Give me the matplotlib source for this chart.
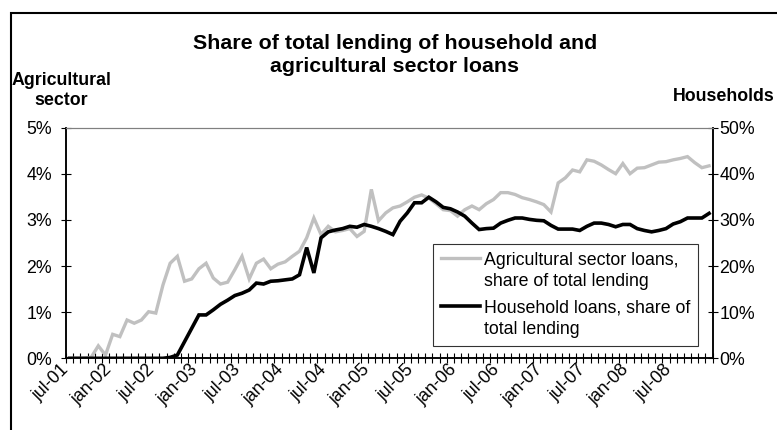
import numpy as np
import matplotlib
matplotlib.use('Agg')
import matplotlib.pyplot as plt
import matplotlib.patches as patches
import matplotlib.transforms as mtransforms
from matplotlib.legend_handler import HandlerLine2D

plt.rcParams['font.family'] = ['Liberation Sans', 'DejaVu Sans']

# monthly observations jul-01 .. dec-08 (90 months)
# agricultural sector loans, % of total lending (left axis)
agri_share = [0.00, 0.00, 0.00, 0.02, 0.27, 0.07, 0.52, 0.47, 0.83, 0.76,
              0.83, 1.01, 0.98, 1.59, 2.06, 2.21, 1.67, 1.72, 1.94, 2.06,
              1.74, 1.61, 1.65, 1.92, 2.21, 1.72, 2.06, 2.15, 1.94, 2.04,
              2.09, 2.21, 2.32, 2.61, 3.04, 2.68, 2.86, 2.74, 2.77, 2.81,
              2.64, 2.75, 3.66, 2.98, 3.15, 3.26, 3.30, 3.39, 3.49, 3.54,
              3.47, 3.35, 3.22, 3.20, 3.08, 3.22, 3.30, 3.22, 3.35, 3.44,
              3.59, 3.59, 3.55, 3.48, 3.44, 3.39, 3.33, 3.17, 3.80, 3.91,
              4.08, 4.04, 4.30, 4.27, 4.19, 4.09, 4.00, 4.22, 4.00, 4.12,
              4.13, 4.19, 4.25, 4.26, 4.30, 4.33, 4.37, 4.24, 4.13, 4.17]

# household loans, % of total lending (right axis)
household_share = [0, 0, 0, 0, 0, 0, 0, 0, 0, 0,
                   0, 0, 0, 0, 0.2, 0.7, 3.6, 6.5, 9.4, 9.4,
                   10.5, 11.7, 12.6, 13.6, 14.1, 14.8, 16.3, 16.1, 16.7, 16.8,
                   17.0, 17.2, 18.1, 24.0, 18.5, 26.1, 27.4, 27.8, 28.1, 28.6,
                   28.4, 29.0, 28.6, 28.1, 27.5, 26.8, 29.7, 31.5, 33.7, 33.7,
                   34.9, 33.9, 32.7, 32.4, 31.7, 30.8, 29.3, 27.9, 28.1, 28.2,
                   29.3, 29.9, 30.4, 30.4, 30.1, 29.9, 29.8, 28.8, 28.0, 28.0,
                   28.0, 27.7, 28.6, 29.3, 29.3, 29.0, 28.5, 29.0, 29.0, 28.1,
                   27.7, 27.4, 27.7, 28.1, 29.1, 29.6, 30.4, 30.4, 30.4, 31.4]

tick_labels = ['jul-01', 'jan-02', 'jul-02', 'jan-03', 'jul-03', 'jan-04',
               'jul-04', 'jan-05', 'jul-05', 'jan-06', 'jul-06', 'jan-07',
               'jul-07', 'jan-08', 'jul-08']
label_step = 6

agri_ticks = [0, 1, 2, 3, 4, 5]
household_ticks = [0, 10, 20, 30, 40, 50]

FS = 12.8


class FirstLineHandler(HandlerLine2D):
    """Legend handle drawn next to the first line of a two-line label."""
    def create_artists(self, legend, orig_handle, xdescent, ydescent,
                       width, height, fontsize, trans):
        artists = super().create_artists(legend, orig_handle, xdescent, ydescent,
                                          width, height, fontsize, trans)
        for a in artists:
            a.set_ydata(np.asarray(a.get_ydata()) + 0.75 * fontsize)
        return artists


fig = plt.figure(figsize=(7.77, 4.30), dpi=100)
ax = fig.add_axes([0.0849, 0.1667, 0.8323, 0.5367])
ax2 = ax.twinx()

n = len(agri_share)
x = np.arange(n)
line_agri, = ax.plot(x, agri_share, color='#c0c0c0', lw=2.4, solid_joinstyle='miter')
line_hh, = ax2.plot(x, household_share, color='black', lw=2.6, solid_joinstyle='miter')

ax.set_xlim(-0.5, n - 0.5)
ax.set_ylim(0, 5)
ax2.set_ylim(0, 50)

# month boundaries as cross ticks, labels every six months
ax.set_xticks(np.arange(n + 1) - 0.5)
ax.set_xticklabels([])
ax.tick_params(axis='x', which='major', direction='inout', length=6.5, width=0.8)
label_pos = np.arange(0, n, label_step)[:len(tick_labels)]
ax.set_xticks(label_pos, minor=True)
ax.set_xticklabels(tick_labels, minor=True, rotation=45, ha='right', va='center',
                   rotation_mode='anchor', fontsize=FS)
ax.tick_params(axis='x', which='minor', length=0, pad=6.3)
shift = mtransforms.ScaledTranslation(-3.6 / 100, 0, fig.dpi_scale_trans)
for lbl in ax.get_xticklabels(minor=True):
    lbl.set_transform(lbl.get_transform() + shift)

ax.set_yticks(agri_ticks)
ax.set_yticklabels([f'{v}%' for v in agri_ticks], fontsize=FS)
ax.tick_params(axis='y', direction='inout', length=7.5, width=0.8, pad=6.3)
ax2.set_yticks(household_ticks)
ax2.set_yticklabels([f'{v}%' for v in household_ticks], fontsize=FS)
ax2.tick_params(axis='y', direction='inout', length=7.5, width=0.8, pad=1)

for a in (ax, ax2):
    a.spines['top'].set_color('#808080')
    a.spines['top'].set_linewidth(0.8)
    for s in ('left', 'right', 'bottom'):
        a.spines[s].set_linewidth(1.1)

leg = ax2.legend([line_agri, line_hh],
                 ['Agricultural sector loans,\nshare of total lending',
                  'Household loans, share of\ntotal lending'],
                 handler_map={line_agri: FirstLineHandler(), line_hh: FirstLineHandler()},
                 loc='upper left', bbox_to_anchor=(0.5675, 0.495), fontsize=FS,
                 frameon=True, fancybox=False, borderpad=0.45, handlelength=2.2,
                 handletextpad=0.22, labelspacing=0.55, borderaxespad=0)
leg.get_frame().set_edgecolor('black')
leg.get_frame().set_linewidth(0.8)
for t in leg.get_texts():
    t.set_linespacing(1.3)

fig.text(395 / 777, 1 - 72 / 430,
         'Share of total lending of household and\nagricultural sector loans',
         ha='center', va='baseline', fontsize=15.4, fontweight='bold',
         multialignment='center', linespacing=1.25)
fig.text(61.5 / 777, 1 - 105 / 430, 'Agricultural\nsector', ha='center',
         va='baseline', fontsize=FS, fontweight='bold', multialignment='center')
fig.text(775 / 777, 1 - 101 / 430, 'Households', ha='right', va='baseline',
         fontsize=FS, fontweight='bold')

# outer chart frame
frame = patches.Rectangle((10.5 / 777, -0.1), 1.0, 1 - 12.5 / 430 + 0.1,
                          transform=fig.transFigure, fill=False,
                          edgecolor='black', linewidth=1.5, clip_on=False)
fig.patches.append(frame)

fig.savefig('out.png', dpi=100, facecolor='white')
